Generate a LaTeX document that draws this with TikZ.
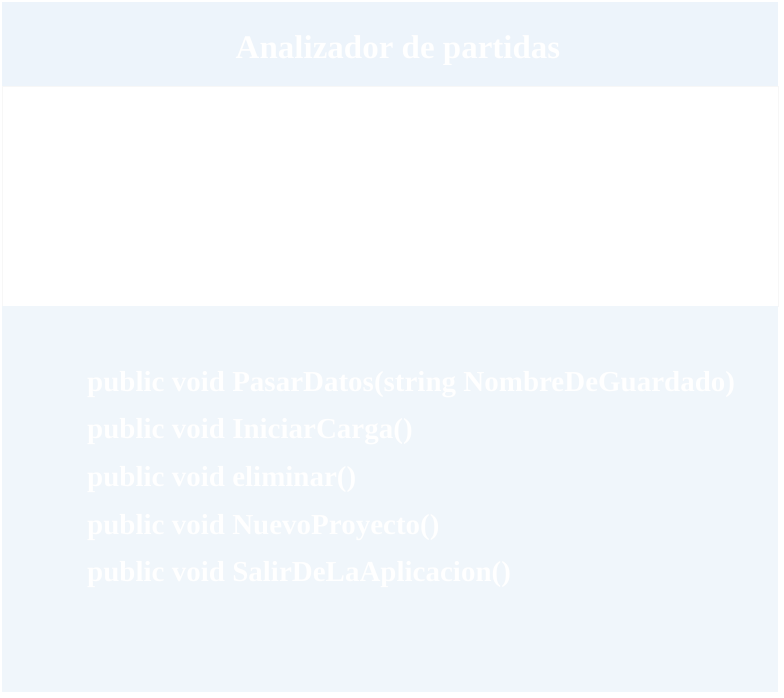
\documentclass[tikz,border=0pt]{standalone}
\usepackage{fontspec}
\setmainfont{Liberation Serif}
\usetikzlibrary{positioning}
\definecolor{headblue}{RGB}{237,244,251}
\definecolor{bodyblue}{RGB}{240,246,251}
\begin{document}
\begin{tikzpicture}[x=1pt, y=-1pt]
        \tikzstyle{section}=[rectangle, inner sep=0pt, anchor=north west];
        \tikzstyle{method}=[anchor=base west, inner sep=0pt, text=white, font=\fontsize{29}{34}\selectfont\bfseries];

        \useasboundingbox (0,0) rectangle (784,697);

        % class box
        \node[section, fill=headblue, minimum width=776pt, minimum height=84pt] (title) at (2,2) {};
        \node[section, fill=white, draw=black!3, minimum width=776pt, minimum height=220pt] (attrs) at (2,86) {};
        \node[section, fill=bodyblue, minimum width=776pt, minimum height=386pt] (methods) at (2,306) {};

        \node[anchor=base, inner sep=0pt, text=white, font=\fontsize{33}{38}\selectfont\bfseries] (name) at (398,58) {Analizador de partidas};

        \foreach \m [count=\i] in {public void PasarDatos(string NombreDeGuardado), public void IniciarCarga(), public void eliminar(), public void NuevoProyecto(), public void SalirDeLaAplicacion()}
            \node[method] (m\i) at (87,{391+47.7*(\i-1)}) {\m};
    \end{tikzpicture}
\end{document}
